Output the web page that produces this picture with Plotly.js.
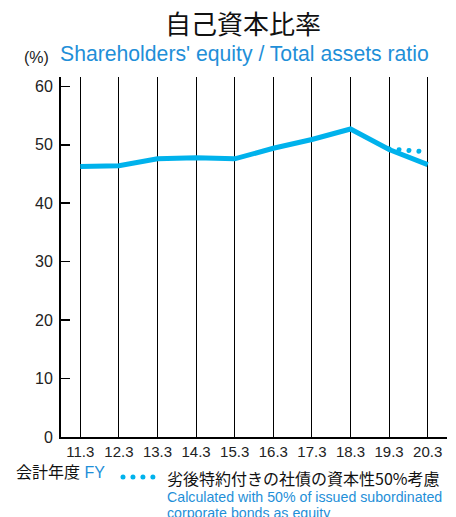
<!DOCTYPE html>
<html><head><meta charset="utf-8">
<script src="https://cdn.plot.ly/plotly-3.0.1.min.js"></script>
<style>html,body{margin:0;padding:0;background:#fff;}#chart{width:456px;height:517px;}</style>
</head><body><div id="chart"></div>
<script>
const categories = ["11.3","12.3","13.3","14.3","15.3","16.3","17.3","18.3","19.3","20.3"];
const equityRatio = [46.3, 46.4, 47.6, 47.8, 47.6, 49.4, 50.9, 52.7, 49.2, 46.6];
const adjCategories = ["19.3","20.3"];
const adjEquityRatio = [49.3, 48.8];
const yTicks = [0,10,20,30,40,50,60];

const BLUE = '#00b2ec';
const TXTBLUE = '#1f8fd8';
const FONT = 'Liberation Sans, Arial, sans-serif';
const JFONT = 'Noto Sans CJK JP, sans-serif';

const traces = [
  {x: categories, y: equityRatio, type:'scatter', mode:'lines',
   line:{color:BLUE, width:5}, showlegend:false, hoverinfo:'skip'},
  {x: adjCategories, y: adjEquityRatio, type:'scatter', mode:'lines',
   line:{color:BLUE, width:5, dash:'0.01px,9.95px'}, showlegend:true,
   name:'', hoverinfo:'skip'}
];

const px = v => (v - 61) / 386;
const py = v => (437 - v) / 360;

const layout = {
  width:456, height:517,
  margin:{l:61, r:9, t:77, b:80},
  paper_bgcolor:'#fff', plot_bgcolor:'#fff',
  font:{family:FONT, size:15, color:'#222'},
  xaxis:{type:'category', categoryorder:'array', categoryarray:categories,
    range:[-0.5, 9.5], showgrid:true, gridcolor:'#000', gridwidth:1,
    showline:true, linecolor:'#000', linewidth:2, ticks:'', zeroline:false,
    tickfont:{family:FONT, size:15, color:'#222'}, fixedrange:true},
  yaxis:{range:[0, 61.6], tickvals:yTicks, showgrid:false, zeroline:false,
    showline:true, linecolor:'#000', linewidth:2, ticks:'inside', ticklen:9, tickwidth:1.5, tickcolor:'#000',
    ticklabelstandoff:3,
    tickfont:{family:FONT, size:16, color:'#222'}, fixedrange:true},
  showlegend:true,
  legend:{x:px(118), y:py(477), xanchor:'left', yanchor:'middle', bgcolor:'rgba(0,0,0,0)',
    font:{family:JFONT, size:16, color:'#111'}, itemwidth:30},
  annotations:[
    {text:'自己資本比率', xref:'paper', yref:'paper', x:px(243), y:py(22), xanchor:'center', yanchor:'middle',
     showarrow:false, font:{family:JFONT, size:26, color:'#111'}},
    {text:'(%)', xref:'paper', yref:'paper', x:px(36), y:py(58), xanchor:'center', yanchor:'middle',
     showarrow:false, font:{family:FONT, size:16, color:'#222'}},
    {text:"Shareholders' equity / Total assets ratio", xref:'paper', yref:'paper', x:px(58), y:py(54), xanchor:'left', yanchor:'middle',
     showarrow:false, font:{family:FONT, size:21.2, color:TXTBLUE}},
    {text:'<span style="font-family:Noto Sans CJK JP;color:#111">会計年度</span> <span style="color:'+TXTBLUE+'">FY</span>', xref:'paper', yref:'paper', x:px(14), y:py(471), xanchor:'left', yanchor:'middle',
     showarrow:false, font:{family:FONT, size:16, color:'#111'}},
    {text:'劣後特約付きの社債の資本性50%考慮', xref:'paper', yref:'paper', x:px(165), y:py(478), xanchor:'left', yanchor:'middle',
     showarrow:false, font:{family:JFONT, size:16, color:'#111'}},
    {text:'Calculated with 50% of issued subordinated', xref:'paper', yref:'paper', x:px(165), y:py(497), xanchor:'left', yanchor:'middle',
     showarrow:false, font:{family:FONT, size:14.2, color:TXTBLUE}},
    {text:'corporate bonds as equity', xref:'paper', yref:'paper', x:px(165), y:py(513), xanchor:'left', yanchor:'middle',
     showarrow:false, font:{family:FONT, size:14.2, color:TXTBLUE}}
  ]
};
Plotly.newPlot('chart', traces, layout, {displayModeBar:false, staticPlot:true}).then(gd => {
  const sel = gd.querySelectorAll('.scatterlayer .trace:nth-of-type(2) path.js-line, .legend .legendlines path');
  sel.forEach(p => { p.style.strokeLinecap = 'round'; });
});
</script></body></html>
